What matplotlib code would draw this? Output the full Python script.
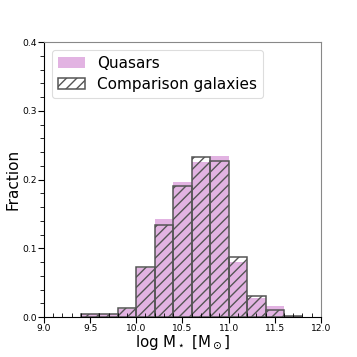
import matplotlib
matplotlib.use("Agg")
import matplotlib.pyplot as plt
from matplotlib.ticker import MultipleLocator

# bin edges in log stellar mass
bin_edges = [9.4, 9.6, 9.8, 10.0, 10.2, 10.4, 10.6, 10.8, 11.0, 11.2, 11.4, 11.6, 11.8]
bin_left = bin_edges[:-1]

# fractions
quasars = [0.004, 0.004, 0.011, 0.071, 0.142, 0.196, 0.226, 0.235, 0.080, 0.027, 0.016, 0.0]
comparison = [0.005, 0.005, 0.013, 0.073, 0.134, 0.191, 0.233, 0.227, 0.088, 0.030, 0.010, 0.0015]

# the hatch tile scales with dpi, so render at a lower dpi to get the
# right hatch spacing; s converts sizes tuned for 100 dpi
DPI = 62
s = 100.0 / DPI

plt.rcParams['hatch.color'] = '#444444'
plt.rcParams['hatch.linewidth'] = 1.0 * s

fig = plt.figure(figsize=(357.0 / DPI, 357.0 / DPI), dpi=DPI)
ax = fig.add_axes([0.123, 0.112, 0.776, 0.770])

ax.hist(bin_left, bins=bin_edges, weights=quasars, color="#e2b3e2",
        label="Quasars")
ax.hist(bin_left, bins=bin_edges, weights=comparison, histtype="bar",
        facecolor="none", edgecolor="#555555", hatch="//", linewidth=1.1 * s,
        label="Comparison galaxies")

ax.set_xlim(9.0, 12.0)
ax.set_ylim(0.0, 0.4)
ax.xaxis.set_major_locator(MultipleLocator(0.5))
ax.xaxis.set_minor_locator(MultipleLocator(0.1))
ax.yaxis.set_major_locator(MultipleLocator(0.1))
ax.yaxis.set_minor_locator(MultipleLocator(0.02))
ax.tick_params(axis="both", which="major", labelsize=6.6 * s, length=4 * s, width=0.8 * s)
ax.tick_params(axis="x", which="minor", direction="in", length=3 * s, width=0.6 * s)
ax.tick_params(axis="y", which="minor", length=3 * s, width=0.6 * s)
ax.tick_params(axis="both", pad=1 * s)

for side in ax.spines:
    ax.spines[side].set_linewidth(0.8 * s)
for side in ["top", "right"]:
    ax.spines[side].set_color("#888888")

ax.set_xlabel(r"log M$_\star$ [M$_\odot$]", fontsize=10.8 * s, labelpad=0)
ax.set_ylabel("Fraction", fontsize=11 * s, labelpad=1 * s)
leg = ax.legend(loc="upper left", fontsize=11 * s, handlelength=1.8, borderpad=0.4,
                labelspacing=0.4, handletextpad=0.8, framealpha=1, edgecolor="#dddddd")
leg.get_frame().set_linewidth(0.8 * s)

fig.savefig("out.png", dpi=DPI)
